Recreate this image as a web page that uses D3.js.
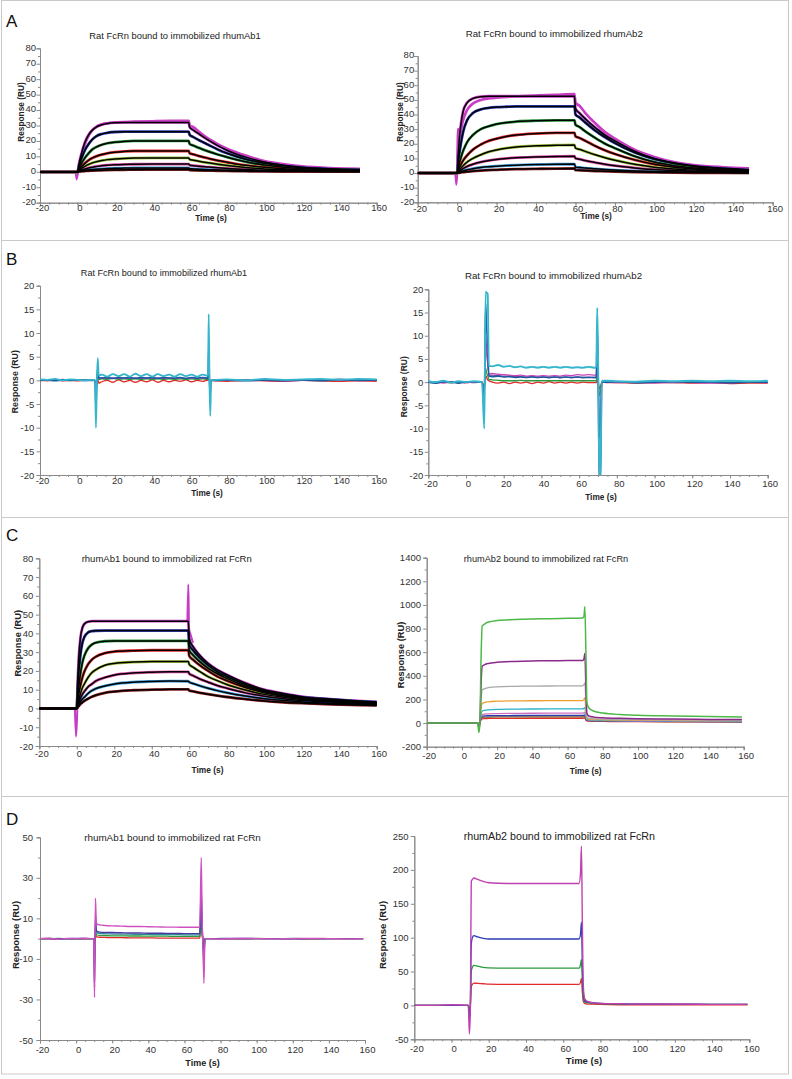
<!DOCTYPE html>
<html><head><meta charset="utf-8">
<script src="https://cdn.jsdelivr.net/npm/d3@7"></script>
<style>
body{margin:0;background:#fff;}
svg{display:block;font-family:Arial,"Liberation Sans",sans-serif;}
</style></head><body>
<svg id="fig" width="792" height="1079"></svg>
<script>
// ---------------- DATA ----------------
const xTicks = [-20,0,20,40,60,80,100,120,140,160];
const titles = {
  A1:"Rat FcRn bound to immobilized rhumAb1", A2:"Rat FcRn bound to immobilized rhumAb2",
  B1:"Rat FcRn bound to immobilized rhumAb1", B2:"Rat FcRn bound to immobilized rhumAb2",
  C1:"rhumAb1 bound to immobilized rat FcRn", C2:"rhumAb2 bound to immobilized rat FcRn",
  D1:"rhumAb1 bound to immobilized rat FcRn", D2:"rhumAb2 bound to immobilized rat FcRn"
};
const yTicksA = [-20,-10,0,10,20,30,40,50,60,70,80];
const yTicksB = [-20,-15,-10,-5,0,5,10,15,20];
const yTicksC1 = [-20,-10,0,10,20,30,40,50,60,70,80];
const yTicksC2 = [-200,0,200,400,600,800,1000,1200,1400];
const yTicksD1 = [-50,-30,-10,10,30,50];
const yTicksD2 = [-50,0,50,100,150,200,250];

// Panel A1 (time, s) and responses (RU)
const T_A1 = [-20,-1,0,1,2,4,6,8,10,13,16,20,25,30,40,50,59.5,60,62,65,70,75,80,90,100,110,120,135,151];
const A1_1 = [0,0,0,6,11,19,24,27,29,30.5,31.3,31.8,32,32,32,32,32,29,27,24.5,20.5,17,14,9.5,6.3,4.3,3,2,1.5];
const A1_2 = [0,0,0,4,8,14,18,21,23,24.5,25.3,25.8,26,26,26,26,26,24,22.5,20.5,17.5,14.5,12,8.2,5.6,3.9,2.7,1.8,1.3];
const A1_3 = [0,0,0,2.5,5,9,12,14.5,16,17.5,18.5,19.2,19.7,20,20,20,20,18,17,15.5,13.2,11.2,9.5,6.5,4.4,3,2.1,1.4,1];
const A1_4 = [0,0,0,1.5,3,5.5,7.5,9,10,11.2,12,12.7,13.2,13.5,13.5,13.5,13.5,12,11.3,10.2,8.7,7.3,6.2,4.2,2.9,2,1.4,0.9,0.7];
const A1_5 = [0,0,0,1,2,3.5,4.8,5.8,6.5,7.3,7.9,8.3,8.7,8.9,9,9,9,8,7.5,6.8,5.8,4.9,4.1,2.8,1.9,1.3,1,0.7,0.5];
const A1_6 = [0,0,0,0.5,1,1.8,2.5,3,3.5,4,4.3,4.6,4.8,4.9,5,5,5,4.3,4,3.6,3.1,2.6,2.2,1.5,1,0.8,0.6,0.4,0.3];
const A1_7 = [0,0,0,0.3,0.5,0.9,1.2,1.5,1.7,1.9,2.1,2.3,2.4,2.5,2.5,2.5,2.5,2,1.9,1.7,1.4,1.2,1,0.7,0.5,0.4,0.3,0.2,0.15];
const A1_8 = [0,0,0,0.2,0.3,0.5,0.7,0.8,0.9,1,1.1,1.2,1.3,1.4,1.5,1.5,1.5,1.1,1,0.9,0.8,0.7,0.6,0.4,0.3,0.2,0.2,0.1,0.1];
const A1_1data = [0,0,0,5,10,18,23.5,27,29,30.8,31.5,32,32.3,32.5,32.8,33,33,30,29,26,21.5,18,15,10.5,7,5,3.6,2.5,2];
const A1_spike = [[-1,0],[-0.4,-5],[0.3,-1],[1,5]];

// Panel A2
const T_A2 = [-20,-1,0,0.5,1,2,3,5,8,12,16,20,25,30,40,50,59.5,60,62,65,70,75,80,90,100,110,120,135,148];
const A2_1 = [0,0,0,12,22,34,42,48,51,52.2,52.5,52.5,52.5,52.5,52.5,52.5,52.5,44,41,37,31,26,22,15,10,7,5,3.2,2.3];
const A2_2 = [0,0,0,6,12,21,28,36,41,43.5,44.5,45,45.3,45.5,45.5,45.5,45.5,40,38,34.5,29,24.5,20.5,14,9.5,6.5,4.5,3,2];
const A2_3 = [0,0,0,3,6,11,15,21,26,30,32,33.5,34.5,35.2,35.8,36,36,33,31.5,28.5,24,20,17,11.5,7.5,5,3.5,2.3,1.6];
const A2_4 = [0,0,0,1.5,3,6,8.5,12,16,19.5,22,23.5,25,26,27,27.5,27.5,25,24,22,18.5,15.5,13,9,6,4,2.8,1.8,1.2];
const A2_5 = [0,0,0,1,2,3.5,5,7.5,10,12.5,14.5,15.8,17,17.8,18.6,19,19.2,17,16.2,14.8,12.5,10.5,8.8,6,4,2.8,2,1.3,0.9];
const A2_6 = [0,0,0,0.5,1,2,3,4.5,6,7.5,8.5,9.3,10,10.5,11,11.3,11.5,10,9.5,8.5,7.2,6,5,3.5,2.4,1.7,1.2,0.8,0.6];
const A2_7 = [0,0,0,0.3,0.5,1,1.5,2.2,3,3.8,4.3,4.7,5.1,5.4,5.8,6,6.1,4,3.8,3.4,2.9,2.4,2,1.4,1,0.7,0.5,0.3,0.2];
const A2_8 = [0,0,0,0.1,0.2,0.4,0.6,0.9,1.3,1.7,2,2.2,2.5,2.7,2.9,3,3.1,2,1.9,1.7,1.4,1.2,1,0.7,0.5,0.3,0.2,0.15,0.1];
const A2_1data = [0,0,0,30,24,30,36,43,47.5,50,51,51.5,52,52.5,53,53.5,54,48,46,41,34,28,23.5,16,11,7.5,5.5,4,3.2];
const A2_spike = [[-1,0],[-0.5,-8],[0,-3],[0.5,30]];

// Panel B1
const T_B1 = [-20,-16,-12,-8,-4,0,4,8,9.4,9.9,10.4,10.9,11.4,13,16,19,22,25,28,31,34,37,40,43,46,49,52,55,58,61,64,67,69.3,69.8,70.2,70.6,71,71.5,74,80,90,100,110,120,130,140,150,160];
const B1_red = [0,-0.1,0.1,-0.1,0,-0.1,0,0,0,-1,-0.8,0.3,-0.6,-0.3,0,-0.4,0.1,-0.3,0,-0.4,0,-0.3,0.1,-0.4,0,-0.3,0,-0.2,0.1,-0.3,0,-0.2,0,0,1,0,-0.5,0,-0.1,-0.2,0,-0.1,-0.2,0,-0.1,-0.2,-0.1,-0.2];
const B1_green = [0,0,0.1,0,0,0.1,0,0,0,-2,0,1,0.2,0.3,0.2,0.4,0.2,0.3,0.2,0.3,0.2,0.3,0.2,0.3,0.2,0.3,0.2,0.3,0.2,0.3,0.2,0.3,0.2,0.2,2,0,-1,0,0,0.1,0,0,0.1,0,0,0.1,0,0];
const B1_purple = [0,0.1,0,0.2,0,0,0.1,0,0,-3,0,1.5,0.4,0.5,0.4,0.5,0.4,0.5,0.4,0.5,0.4,0.5,0.4,0.5,0.4,0.5,0.4,0.5,0.4,0.5,0.4,0.5,0.4,0.4,3,0,-1.5,0,0,0,0.1,0,-0.1,0,0.1,0,0,0];
const B1_blue = [0,0.1,-0.1,0.1,0,0.1,0,0,0,-6,0,2.5,0.5,0.5,0.6,0.4,0.6,0.5,0.6,0.4,0.6,0.5,0.6,0.4,0.6,0.5,0.5,0.6,0.4,0.6,0.5,0.6,0.5,0.5,7,0,-3,0,0,0.1,-0.1,0.1,0,0.1,-0.1,0.2,0,0.1];
const B1_cyan = [0.2,0.1,0.3,0,0.2,0.1,0,0.1,0,-10,0,4.7,1,1.2,0.8,1.3,0.9,1.3,0.8,1.4,0.9,1.3,0.8,1.3,0.9,1.2,0.8,1.3,0.9,1.2,0.8,1.2,1,1,14,0,-7.5,0,0.1,0.2,0,0.3,0.1,0.2,0.3,0.1,0.3,0.2];

// Panel B2
const T_B2 = [-20,-16,-12,-8,-4,0,4,8.5,9.7,10.4,10.9,11.5,12.1,14,17,20,23,26,29,32,35,38,41,44,47,50,53,56,59,62,65,68,69.1,69.6,70.1,70.7,71.3,72,75,80,90,100,110,120,130,140,150,160];
const B2_red = [0,-0.1,0,-0.1,0,-0.1,0,0,-1,1.5,1,0.5,0.3,0,-0.2,0,-0.3,0,-0.2,0,-0.3,0,-0.2,0.1,-0.2,0,-0.2,0,-0.2,0,-0.1,-0.1,-0.1,1,0,-1.5,-1,0,-0.1,-0.1,-0.2,-0.1,-0.1,-0.2,-0.1,-0.3,-0.2,-0.2];
const B2_green = [0,0,0,-0.1,0,0,0,0,-1,3,2,1.5,0.6,0.5,0.4,0.3,0.3,0.3,0.4,0.3,0.3,0.3,0.3,0.3,0.3,0.3,0.3,0.3,0.3,0.3,0.3,0.3,0.3,2,0.5,-3,-2,0,0,0,0,0,0,0,0,0,0,0];
const B2_purple = [0,-0.1,0,0.1,0,0,-0.1,0,-3,10,7,5,1.5,1.5,1.4,1.3,1.3,1.2,1.2,1.1,1.2,1.1,1.1,1.0,1.1,1.0,1.1,1.0,1.1,1.0,1.1,1.0,1.0,8,1,-12,-8,0,0,0,-0.1,0,-0.1,0,0,-0.1,0,-0.1];
const B2_magenta = [0,0,-0.2,0,0,-0.1,0,0,-2,8,6,4,1.8,1.9,1.7,1.6,1.5,1.4,1.5,1.3,1.4,1.3,1.4,1.3,1.4,1.3,1.5,1.4,1.6,1.5,1.6,1.5,1.5,6,1,-8,-6,0,0,-0.1,0,-0.2,0,-0.1,-0.2,-0.1,0,-0.1];
const B2_blue = [0,-0.2,0.1,0,-0.2,0,0.1,0,-4,17,12,8,1.3,1.2,1.3,1.1,1.2,1.0,1.1,1.0,1.1,1.0,1.1,1.0,1.1,1.0,1.1,1.0,1.1,1.0,1.0,1.0,1,12,2,-22,-22,0,0,0.1,-0.1,0,0.1,0,0,-0.1,0,0];
const B2_cyan = [0.2,0,0.3,-0.1,0.2,0,0.2,0,-10,19.5,19.3,19,3.5,3.4,3.7,3.3,3.5,3.2,3.4,3.1,3.3,3.1,3.3,3.1,3.3,3.1,3.3,3.1,3.2,3.1,3.3,3.1,3.1,16,3,-21,-21,0.3,0.3,0.2,0.1,0.3,0.2,0.3,0.2,0.3,0.2,0.3];

// Panel C1
const T_C1 = [-20,-1,0,0.5,1,2,3,4,6,8,10,15,20,30,40,50,59.5,60,62,65,70,75,80,90,100,110,120,135,150,160];
const C1_1 = [0,0,0,15,26,38,43,45,46.2,46.5,46.5,46.5,46.5,46.5,46.5,46.5,46.5,37,33,29,24,20.5,18,13.5,10,8,6.3,5,4,3.5];
const C1_2 = [0,0,0,10,18,29,35,38,40.5,41.2,41.4,41.5,41.5,41.5,41.5,41.5,41.5,34,31,27.5,23,19.5,17,12.8,9.5,7.5,6,4.8,3.8,3.3];
const C1_3 = [0,0,0,6,11,19,24.5,28,32,34,35,35.8,36,36,36,36,36,31,28.5,25.5,21.5,18.5,16,12,9,7,5.6,4.5,3.6,3.1];
const C1_4 = [0,0,0,4,7,12.5,16.5,19.5,23.5,26,27.5,29.5,30.3,30.8,31,31,31,28,26,23.5,20,17,14.8,11.2,8.4,6.6,5.3,4.2,3.4,2.9];
const C1_5 = [0,0,0,2.5,4.5,8,11,13,16.5,19,20.5,23,24,24.7,25,25,25,23.5,22,20,17,14.8,12.8,9.8,7.5,6,4.8,3.8,3.1,2.7];
const C1_6 = [0,0,0,1.5,3,5.5,7.5,9,11.5,13,14.5,16.5,17.8,18.9,19.3,19.5,19.5,18.5,17.5,16,14,12.2,10.8,8.3,6.5,5.2,4.2,3.4,2.8,2.4];
const C1_7 = [0,0,0,1,2,3.8,5,6,8,9.5,10.5,12,13,14,14.4,14.6,14.5,14,13.3,12.3,10.8,9.5,8.4,6.6,5.2,4.3,3.5,2.8,2.3,2];
const C1_8 = [0,0,0,0.6,1.2,2.4,3.2,4,5.2,6.2,7,8.3,9,9.7,10,10.2,10.2,9.5,9.1,8.5,7.6,6.8,6.1,5,4,3.3,2.8,2.2,1.8,1.6];
const C1_spikeStart = [[-1,0],[-0.4,-15],[0.2,-3],[0.6,15]];
const C1_spikeEnd = [[59,46.5],[59.5,66],[59.9,42],[60.5,40],[62,35]];

// Panel C2
const T_C2 = [-20,0,9,9.6,10.2,10.8,11.5,13,15,20,30,40,50,60,68.5,69.3,69.8,70.4,71,72,75,80,90,100,120,140,159];
const C2_green = [0,0,0,-80,-10,500,820,840,855,868,876,881,884,887,890,905,985,600,170,130,100,85,72,66,60,55,52];
const C2_purple = [0,0,0,-40,-5,300,480,495,505,515,522,526,528,529,530,545,590,300,80,60,50,45,40,37,34,31,30];
const C2_gray = [0,0,0,-25,0,180,280,292,300,307,311,313,314,315,315,325,340,180,50,40,35,33,30,28,26,25,24];
const C2_orange = [0,0,0,-15,0,110,165,175,180,185,188,189,190,190,190,200,215,110,40,34,30,28,26,24,22,21,20];
const C2_cyan = [0,0,0,-10,0,70,100,108,112,116,118,119,120,120,120,125,130,70,32,28,25,23,21,20,19,18,17];
const C2_pink = [0,0,0,-8,0,50,72,76,78,80,82,83,84,84,85,88,90,50,28,25,22,20,18,17,16,15,14];
const C2_blue = [0,0,0,-6,0,40,58,61,62,63,64,65,65,65,65,67,70,40,25,22,20,18,16,15,14,13,12];
const C2_brown = [0,0,0,-5,0,35,48,50,51,52,52,53,53,53,53,54,56,32,22,20,18,16,15,14,13,12,11];
const C2_red = [0,0,0,-4,0,28,36,38,39,40,40,41,41,41,41,42,43,25,18,16,15,14,13,12,11,10,10];

// Panel D1
const T_D1 = [-20,-15,-10,-5,0,5,9,9.7,10.2,10.7,11.2,11.8,13,16,20,25,30,35,40,45,50,55,60,65,68.5,69.3,69.8,70.3,70.8,71.3,72,75,80,90,100,110,120,130,140,150,159];
const D1_red = [0,-0.1,0,0,0,-0.1,0,0,-6,3,1,0.8,0.7,0.6,0.5,0.5,0.4,0.4,0.4,0.3,0.3,0.3,0.3,0.3,0.3,8,2,-1,-5,0,0,0,0,-0.1,0,0,0,-0.1,0,0,0];
const D1_green = [0,0,0.1,0,-0.1,0,0,0,-10,5,2,1.8,1.6,1.5,1.4,1.4,1.3,1.3,1.2,1.2,1.2,1.1,1.1,1.1,1.1,12,3,-1,-7,0,0,0,0,0,0.1,0,0,0,0,0,0];
const D1_teal = [0,0.1,0,-0.1,0,0.1,0,0,-15,8,3,2.8,2.6,2.4,2.3,2.2,2.2,2.1,2.1,2,2,2,1.9,1.9,1.9,18,4,-2,-10,0,0,0,0.1,0,0,0,0.1,0,0,0,0];
const D1_blue = [0,0,-0.2,0,0.1,0,0,0,-24,12,4,3.5,3.2,3,3,2.9,2.8,2.8,2.7,2.7,2.6,2.6,2.5,2.5,2.5,25,6,-3,-14,0,0,0,0,0.1,0,0,-0.1,0,0,0,0];
const D1_magenta = [0,0.2,-0.3,0.1,0,0.2,0,0,-29,20,8,7,6.8,6.5,6.3,6.2,6,6,5.9,5.8,5.7,5.7,5.6,5.6,5.6,40,10,-5,-22,0,0,0,-0.2,0.1,0,-0.1,0,0.1,0,-0.1,0];

// Panel D2
const T_D2 = [-20,-10,0,9,9.6,10.1,10.6,11.2,12,14,17,20,30,40,50,60,68.5,69.3,69.8,70.3,70.8,71.5,73,76,80,90,100,120,140,159];
const D2_red = [0,0,0,0,-6,-1,28,31,33,32.5,32,31.5,31,31,31,31,31,34,40,20,6,3,2,2,1.5,1,1,1,1,1];
const D2_green = [0,0,0,0,-10,-2,50,56,59,58,56,55.5,55,55,55,55,55,60,68,35,12,5,4,3,2.5,2,2,1.5,1.5,1.5];
const D2_blue = [0,0,0,0,-20,-5,90,100,103,101,99,98,98,98,98,98,98,105,123,60,20,7,5,4,3,2.5,2,2,1.5,1.5];
const D2_magenta = [0,0,1,0,-42,-10,183,186,188,186,183,181,180,180,180,180,180,195,235,120,30,10,6,4,3,2.5,2,2,1.5,1.5];

// ---------------- DRAWING ----------------
const svg = d3.select('#fig');
const BORDER = '#c9c9c9';
svg.append('rect').attr('x',1.5).attr('y',0.5).attr('width',787).attr('height',1073.5)
  .attr('fill','none').attr('stroke',BORDER);
[240.5,517.5,796.5].forEach(yy=>svg.append('line').attr('x1',1.5).attr('x2',788.5)
  .attr('y1',yy).attr('y2',yy).attr('stroke',BORDER));

[['A',27],['B',265],['C',541],['D',825]].forEach(([t,yy])=>svg.append('text')
  .attr('x',6).attr('y',yy).attr('font-size',17).attr('fill','#111').text(t));

const COL = {mag:'#c83cc4', blue:'#2a3cb4', green:'#2a9a3c', red:'#e12a2a', lime:'#9cc43a',
  pink:'#de4aa8', lblue:'#3c9cdc', dred:'#8a2020', cyan:'#36b6cc', dblue:'#1d5a9e',
  purple:'#8a3aa8', magB:'#c844b8', gray:'#a8a8a8', orange:'#f0a030', brown:'#7a5a2a',
  teal:'#2a8a9a', c2green:'#4cb848', c2purple:'#8b2a8b', c2cyan:'#2ab0c8', c2pink:'#d070c0'};

function panel(cfg){
  const g = svg.append('g');
  const x = d3.scaleLinear().domain([-20,160]).range([cfg.x0,cfg.x1]);
  const y = d3.scaleLinear().domain(cfg.ydom).range([cfg.yBot,cfg.yTop]);
  const clipId = 'clip'+cfg.id;
  svg.append('clipPath').attr('id',clipId).append('rect')
    .attr('x',cfg.x0).attr('y',cfg.yTop-1).attr('width',cfg.x1-cfg.x0+2).attr('height',cfg.yBot-cfg.yTop+1);

  // minor ticks
  g.append('g').attr('transform',`translate(${cfg.x0},0)`)
    .call(d3.axisLeft(y).tickValues(cfg.yminor).tickSize(2).tickFormat(''));
  g.append('g').attr('transform',`translate(0,${cfg.yBot})`)
    .call(d3.axisBottom(x).tickValues(d3.range(-20,161,5)).tickSize(2).tickFormat(''));
  const ya = g.append('g').attr('transform',`translate(${cfg.x0},0)`)
    .call(d3.axisLeft(y).tickValues(cfg.yticks).tickSize(3.5).tickFormat(d=>String(d)));
  ya.selectAll('text').attr('x',-cfg.ypad).attr('dy',(cfg.ydy||0.32)+'em');
  const xa = g.append('g').attr('transform',`translate(0,${cfg.yBot})`)
    .call(d3.axisBottom(x).tickValues(xTicks).tickSize(3.5).tickFormat(d=>String(d)));
  xa.selectAll('text').attr('dy',null).attr('y',cfg.xlab).attr('dx',2);
  g.selectAll('.domain').attr('stroke','#8a8a8a');
  g.selectAll('.tick line').attr('stroke','#8a8a8a');
  g.selectAll('.tick text').attr('fill','#333').attr('font-size',9.5)
    .attr('font-family','Arial,"Liberation Sans",sans-serif');
  g.selectAll('g').attr('font-family',null).attr('font-size',null);

  const line = d3.line().x(d=>x(d[0])).y(d=>y(d[1])).curve(d3.curveMonotoneX);
  const lg = g.append('g').attr('clip-path',`url(#${clipId})`).attr('fill','none')
    .attr('stroke-linejoin','round');
  cfg.series.forEach(s=>{
    const pts = s.pts ? s.pts : d3.zip(s.T||cfg.T, s.v);
    lg.append('path').attr('d',line(pts)).attr('stroke',s.c).attr('stroke-width',s.w||1.3);
  });

  // texts
  svg.append('text').attr('x',cfg.title[0]).attr('y',cfg.title[1]).attr('text-anchor','middle')
    .attr('font-size',cfg.title[2]).attr('fill','#222').text(titles[cfg.id]);
  svg.append('text').attr('x',cfg.time[0]).attr('y',cfg.time[1]).attr('text-anchor','middle')
    .attr('font-size',cfg.time[2]).attr('font-weight','bold').attr('fill','#222').text('Time (s)');
  svg.append('text').attr('transform',`translate(${cfg.resp[0]},${cfg.resp[1]}) rotate(-90)`)
    .attr('text-anchor','middle').attr('font-size',cfg.resp[2]).attr('font-weight','bold')
    .attr('fill','#222').text('Response (RU)');
}

function fitSeries(T, dataCols, fits){
  const out = [];
  fits.forEach((v,i)=>out.push({T, v, c:dataCols[i], w:2.8}));
  fits.forEach(v=>out.push({T, v, c:'#000', w:1.5}));
  return out;
}
const halfStep = (arr)=>arr.slice(0,-1).map((d,i)=>(d+arr[i+1])/2);

// A1
{
  const cols=[COL.mag,COL.blue,COL.green,COL.red,COL.lime,COL.pink,COL.lblue,COL.dred];
  const s=[{T:T_A1,v:A1_1data,c:COL.mag,w:2.6},{pts:A1_spike,c:COL.mag,w:1.8}]
    .concat(fitSeries(T_A1,cols,[A1_1,A1_2,A1_3,A1_4,A1_5,A1_6,A1_7,A1_8]));
  panel({id:'A1',T:T_A1,x0:40,x1:376.7,yTop:48.3,yBot:202.7,ydom:[-20,80],
    yticks:yTicksA,yminor:halfStep(yTicksA),ypad:4,ydy:0.2,xlab:8.6,
    title:[175,38.5,9.4],time:[211,220.5,8.3],resp:[24,112,8.3],series:s});
}
// A2
{
  const cols=[COL.mag,COL.blue,COL.green,COL.red,COL.lime,COL.pink,COL.lblue,COL.dred];
  const s=[{T:T_A2,v:A2_1data,c:COL.mag,w:2.6},{pts:A2_spike,c:COL.mag,w:1.8}]
    .concat(fitSeries(T_A2,cols,[A2_1,A2_2,A2_3,A2_4,A2_5,A2_6,A2_7,A2_8]));
  panel({id:'A2',T:T_A2,x0:417.7,x1:772.7,yTop:56,yBot:202.3,ydom:[-20,80],
    yticks:yTicksA,yminor:halfStep(yTicksA),ypad:3.5,ydy:0.2,xlab:9.3,
    title:[554.3,36.7,9.7],time:[596,219,8.3],resp:[403,112,8.3],series:s});
}
// B1
panel({id:'B1',T:T_B1,x0:40,x1:376.7,yTop:285.7,yBot:475,ydom:[-20,20],
  yticks:yTicksB,yminor:halfStep(yTicksB),ypad:5.7,xlab:9,
  title:[164,276,9.1],time:[207,496,8.3],resp:[18,381.7,8.8],
  series:[{v:B1_red,c:COL.red},{v:B1_green,c:COL.green},{v:B1_purple,c:COL.purple},
    {v:B1_blue,c:COL.dblue,w:1.6},{v:B1_cyan,c:COL.cyan,w:1.8}]});
// B2
panel({id:'B2',T:T_B2,x0:428.3,x1:767.7,yTop:289.3,yBot:475,ydom:[-20,20],
  yticks:yTicksB,yminor:halfStep(yTicksB),ypad:5,xlab:11.5,
  title:[553.5,279.3,9.7],time:[601,499.5,8.3],resp:[407,386.7,8.5],
  series:[{v:B2_red,c:COL.red},{v:B2_green,c:COL.green},{v:B2_purple,c:COL.purple},
    {v:B2_magenta,c:COL.magB},{v:B2_blue,c:COL.dblue,w:1.6},{v:B2_cyan,c:COL.cyan,w:1.9}]});
// C1
{
  const cols=[COL.mag,COL.blue,COL.green,COL.red,COL.lime,COL.pink,COL.lblue,COL.dred];
  const s=[{pts:C1_spikeStart,c:COL.mag,w:2},{pts:C1_spikeEnd,c:COL.mag,w:2}]
    .concat(fitSeries(T_C1,cols,[C1_1,C1_2,C1_3,C1_4,C1_5,C1_6,C1_7,C1_8]));
  panel({id:'C1',T:T_C1,x0:39.3,x1:376.7,yTop:558.3,yBot:746,ydom:[-20,80],
    yticks:yTicksC1,yminor:halfStep(yTicksC1),ypad:6,xlab:11.3,
    title:[166.7,561.5,9.5],time:[207.5,772.5,8.4],resp:[21,643.3,9.3],series:s});
}
// C2
panel({id:'C2',T:T_C2,x0:426.7,x1:743.7,yTop:557.7,yBot:746.7,ydom:[-200,1400],
  yticks:yTicksC2,yminor:halfStep(yTicksC2),ypad:5.7,xlab:12.3,
  title:[546,561.5,9.2],time:[585.7,773.5,8.3],resp:[404,655,9.3],
  series:[{v:C2_red,c:COL.red},{v:C2_brown,c:COL.brown},{v:C2_blue,c:COL.blue},
    {v:C2_pink,c:COL.c2pink},{v:C2_cyan,c:COL.c2cyan},{v:C2_orange,c:COL.orange},
    {v:C2_gray,c:COL.gray},{v:C2_purple,c:COL.c2purple,w:1.5},{v:C2_green,c:COL.c2green,w:1.5}]});
// D1
panel({id:'D1',T:T_D1,x0:40,x1:365,yTop:837.3,yBot:1040,ydom:[-50,50],
  yticks:yTicksD1,yminor:halfStep(yTicksD1),ypad:7,xlab:13,
  title:[172.5,840.5,9.9],time:[202.5,1065.5,9],resp:[19,935,9.5],
  series:[{v:D1_red,c:COL.red},{v:D1_green,c:COL.green},{v:D1_teal,c:COL.teal},
    {v:D1_blue,c:'#4a3aa0',w:1.4},{v:D1_magenta,c:'#d050c0',w:1.4}]});
// D2
panel({id:'D2',T:T_D2,x0:414.3,x1:749.3,yTop:836,yBot:1039.3,ydom:[-50,250],
  yticks:yTicksD2,yminor:halfStep(yTicksD2),ypad:5.7,xlab:12.5,
  title:[559.3,840,10.7],time:[584,1064,9.5],resp:[386,935,9.5],
  series:[{v:D2_red,c:COL.red},{v:D2_green,c:COL.green},{v:D2_blue,c:COL.blue},
    {v:D2_magenta,c:'#c040b0',w:1.4}]});
</script>
</body></html>
